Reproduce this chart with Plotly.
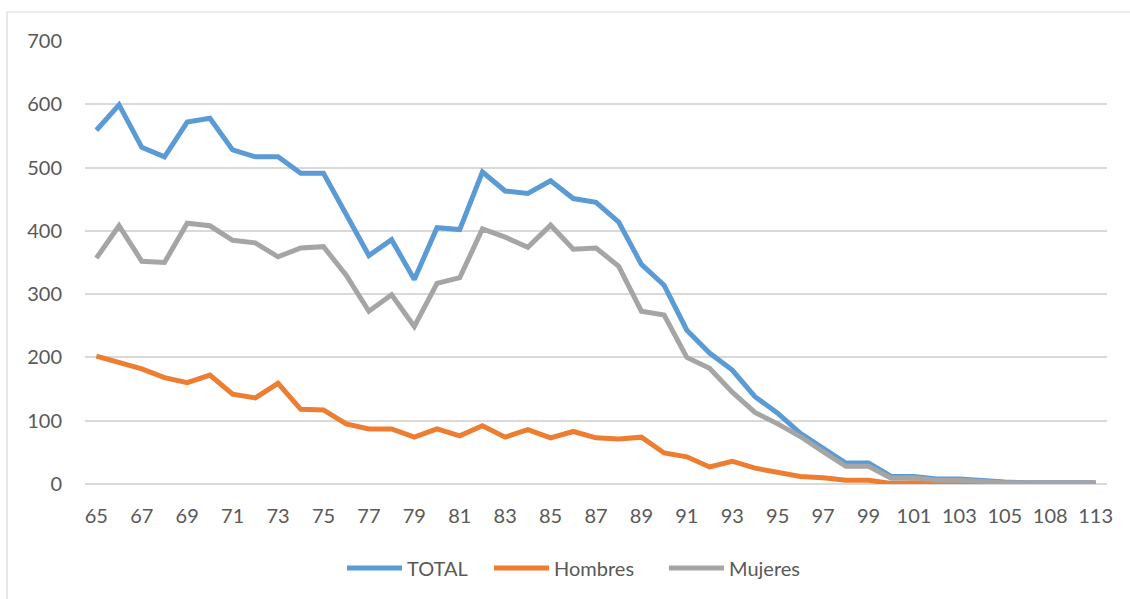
import plotly.graph_objects as go

ages = [str(a) for a in range(65, 106)] + ["106", "108", "110", "113"]
total = [559, 599, 532, 517, 572, 578, 528, 517, 517, 491, 491, 424, 361, 386, 323,
         405, 402, 493, 463, 459, 479, 451, 445, 414, 347, 314, 243, 207, 180, 138,
         112, 80, 57, 33, 33, 12, 12, 8, 8, 5, 3, 2, 2, 2, 2]
hombres = [202, 191, 182, 168, 160, 172, 142, 136, 159, 118, 117, 95, 87, 87, 74,
           87, 76, 92, 74, 86, 73, 83, 73, 71, 74, 49, 43, 27, 36, 25,
           19, 12, 10, 6, 6, 1, 2, 1, 1, 1, 1, 0, 0, 1, 0]
mujeres = [357, 408, 352, 350, 412, 408, 385, 381, 359, 373, 375, 330, 273, 299, 249,
           317, 326, 403, 390, 374, 409, 371, 373, 344, 273, 267, 200, 183, 145, 113,
           95, 75, 51, 28, 28, 9, 10, 6, 6, 4, 2, 2, 2, 2, 2]
y_ticks = [0, 100, 200, 300, 400, 500, 600, 700]

series = [("TOTAL", total, "#5B9BD5", "legend"),
          ("Hombres", hombres, "#ED7D31", "legend2"),
          ("Mujeres", mujeres, "#A5A5A5", "legend3")]

fig = go.Figure()
for name, vals, col, leg in series:
    fig.add_trace(go.Scatter(x=ages, y=vals, name=name, mode="lines",
                             line=dict(color=col, width=5), legend=leg))

W, H = 1130, 599
L, R, T, B = 85, 23, 41, 115
pw, ph = W - L - R, H - T - B

leg_y = (484 - 568) / ph


def leg(px):
    return dict(x=(px - L) / pw, xanchor="left", y=leg_y, yanchor="middle",
                font=dict(size=20, color="#595959"), itemwidth=55,
                bgcolor="rgba(0,0,0,0)")


fig.update_layout(
    width=W, height=H,
    margin=dict(l=L, r=R, t=T, b=B),
    paper_bgcolor="white", plot_bgcolor="white",
    font=dict(family="Lato, Open Sans, sans-serif", size=20, color="#595959"),
    showlegend=True,
    legend=leg(342),
    legend2=leg(489),
    legend3=leg(664),
    xaxis=dict(type="category", categoryorder="array", categoryarray=ages,
               range=[-0.5, len(ages) - 0.5],
               tickmode="array", tickvals=ages[::2], ticktext=ages[::2],
               showgrid=False, zeroline=False, showline=False,
               ticks="", ticklabelstandoff=18,
               tickfont=dict(size=20, color="#595959")),
    yaxis=dict(range=[0, 700], tickvals=y_ticks, showgrid=True,
               gridcolor="#D9D9D9", gridwidth=1.5, zeroline=True,
               zerolinecolor="#D9D9D9", zerolinewidth=1.5, showline=False,
               ticks="", ticklabelstandoff=22,
               tickfont=dict(size=20, color="#595959")),
    shapes=[dict(type="rect", xref="paper", yref="paper",
                 x0=(7 - L) / pw, x1=(W + 5 - L) / pw,
                 y0=-(H + 5 - (H - B)) / ph, y1=1 + (T - 12) / ph,
                 line=dict(color="#D9D9D9", width=1.2), fillcolor="rgba(0,0,0,0)",
                 layer="below")],
)

fig.write_html("out.html", config={"displayModeBar": False},
               post_script="document.body.style.margin='0';")
